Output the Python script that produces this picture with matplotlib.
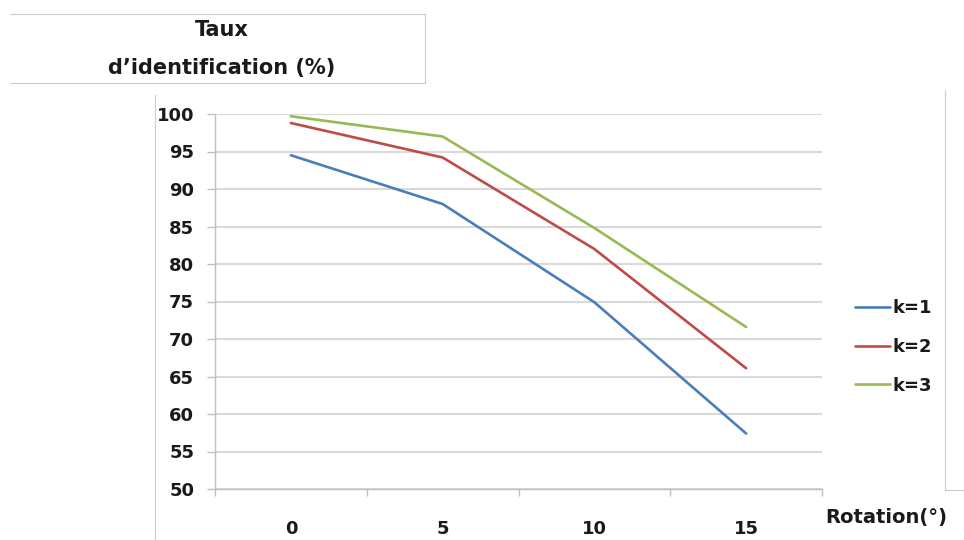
import numpy as np
import matplotlib.pyplot as plt
from matplotlib.lines import Line2D

plt.rcParams['font.family'] = ['DejaVu Sans']
plt.rcParams['font.weight'] = 'bold'

# data
rotations = ['0', '5', '10', '15']
k1 = [94.5, 88.0, 74.9, 57.4]
k2 = [98.8, 94.2, 82.0, 66.1]
k3 = [99.7, 97.0, 84.8, 71.6]
series_names = ['k=1', 'k=2', 'k=3']
colors = ['#4a7ebb', '#be4b48', '#98b954']

W, H = 964, 540
fig = plt.figure(figsize=(W / 100, H / 100), dpi=100)
ax = fig.add_axes([215 / W, 1 - 489 / H, (822 - 215) / W, (489 - 114) / H])

x = np.arange(len(rotations))
for vals, name, c in zip([k1, k2, k3], series_names, colors):
    ax.plot(x, vals, color=c, lw=1.9, label=name, solid_capstyle='round')

ax.set_xlim(-0.5, len(rotations) - 0.5)
ax.set_ylim(50, 100)
ax.set_yticks(np.arange(50, 101, 5))
ax.set_xticks(x)
ax.set_xticklabels(rotations)
ax.set_xticks(np.arange(-0.5, len(rotations), 1.0), minor=True)

grid_c = '#d9d9d9'
ax.yaxis.grid(True, color=grid_c, lw=1.5)
ax.set_axisbelow(True)
for s in ['top', 'right']:
    ax.spines[s].set_visible(False)
for s in ['left', 'bottom']:
    ax.spines[s].set_color('#bfbfbf')
    ax.spines[s].set_linewidth(1.0)

ax.tick_params(axis='y', length=6, width=1.0, color='#bfbfbf', pad=9,
               labelsize=13)
ax.tick_params(axis='x', which='major', length=0, pad=22, labelsize=13)
ax.tick_params(axis='x', which='minor', length=5, width=1.0, color='#bfbfbf')
for lab in ax.get_xticklabels() + ax.get_yticklabels():
    lab.set_fontweight('bold')
    lab.set_color('#1a1a1a')

# axis titles
fig.text(222 / W, 1 - 30 / H, 'Taux', ha='center', va='center',
         fontsize=15, fontweight='bold', color='#1a1a1a')
fig.text(222 / W, 1 - 68 / H, "d\u2019identification (%)", ha='center',
         va='center', fontsize=15, fontweight='bold', color='#1a1a1a')
fig.text(886 / W, 1 - 518 / H, 'Rotation(\u00b0)', ha='center', va='center',
         fontsize=14, fontweight='bold', color='#1a1a1a')

# legend
leg = ax.legend(loc='upper left', bbox_to_anchor=(848 / W, 1 - 292 / H),
                bbox_transform=fig.transFigure, frameon=False, fontsize=13,
                handlelength=1.95, handletextpad=0.1, labelspacing=1.15,
                borderaxespad=0)
for t in leg.get_texts():
    t.set_fontweight('bold')
    t.set_color('#1a1a1a')

# screenshot frame lines
frame_c = '#cccccc'
fig.add_artist(Line2D([10 / W, 425 / W], [1 - 14 / H, 1 - 14 / H], color=frame_c, lw=0.8))
fig.add_artist(Line2D([10 / W, 425 / W], [1 - 83 / H, 1 - 83 / H], color=frame_c, lw=0.8))
fig.add_artist(Line2D([425 / W, 425 / W], [1 - 14 / H, 1 - 83 / H], color=frame_c, lw=0.8))
fig.add_artist(Line2D([155 / W, 155 / W], [1 - 95 / H, 0], color=frame_c, lw=0.8))
fig.add_artist(Line2D([945 / W, 945 / W], [1 - 90 / H, 1 - 490 / H], color=frame_c, lw=0.8))
fig.add_artist(Line2D([945 / W, 1], [1 - 490 / H, 1 - 490 / H], color=frame_c, lw=0.8))

fig.savefig('out.png', dpi=100)
